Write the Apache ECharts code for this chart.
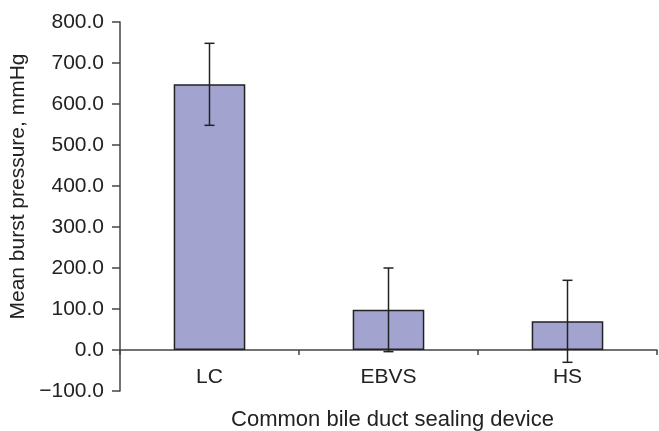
<!DOCTYPE html>
<html><head><meta charset="utf-8">
<script src="https://cdn.jsdelivr.net/npm/echarts@6/dist/echarts.min.js"></script>
<style>html,body{margin:0;padding:0;background:#fff}#c{width:659px;height:431px}</style>
</head><body><div id="c"></div>
<script>
var categories = ['LC', 'EBVS', 'HS'];
var means = [648, 98, 70];
var errors = [100, 102, 100];
var yTicks = { min: -100, max: 800, interval: 100 };

var chart = echarts.init(document.getElementById('c'));
var errData = categories.map(function (c, i) { return [i, means[i] - errors[i], means[i] + errors[i]]; });
var font = 'Liberation Sans, Arial, sans-serif';
chart.setOption({
  animation: false,
  grid: { left: 120, right: 2, top: 22, bottom: 40, outerBoundsMode: 'none', containLabel: false },
  xAxis: {
    type: 'category', data: categories,
    axisLine: { onZero: true, lineStyle: { color: '#444', width: 1.5 } },
    axisTick: { show: true, length: 5, inside: false, lineStyle: { color: '#444', width: 1.5 } },
    axisLabel: { color: '#222', fontSize: 21, fontFamily: font, margin: -24 },
    name: 'Common bile duct sealing device', nameLocation: 'middle', nameGap: 18,
    nameTextStyle: { color: '#222', fontSize: 22, fontFamily: font, padding: [0, 0, 0, 8] }
  },
  yAxis: {
    type: 'value', min: yTicks.min, max: yTicks.max, interval: yTicks.interval,
    axisLine: { show: true, lineStyle: { color: '#444', width: 1.5 } },
    axisTick: { show: true, length: 8, lineStyle: { color: '#444', width: 1.5 } },
    splitLine: { show: false },
    axisLabel: { color: '#222', fontSize: 21, fontFamily: font, margin: 16,
      formatter: function (v) { return v < 0 ? '\u2212' + Math.abs(v).toFixed(1) : v.toFixed(1); } },
    name: 'Mean burst pressure, mmHg', nameLocation: 'middle', nameGap: 83,
    nameTextStyle: { color: '#222', fontSize: 21, fontFamily: font, padding: [0, 0, 0, 40] }
  },
  series: [{
    type: 'bar', data: means, barWidth: '40%',
    itemStyle: { color: '#a3a3d0', borderColor: '#222', borderWidth: 1.5 }
  }, {
    type: 'custom', data: errData, z: 10,
    renderItem: function (params, api) {
      var x = api.value(0);
      var lo = api.coord([x, api.value(1)]);
      var hi = api.coord([x, api.value(2)]);
      var cw = 5;
      var st = { stroke: '#222', lineWidth: 1.5 };
      return { type: 'group', children: [
        { type: 'line', shape: { x1: hi[0], y1: hi[1], x2: lo[0], y2: lo[1] }, style: st },
        { type: 'line', shape: { x1: hi[0] - cw, y1: hi[1], x2: hi[0] + cw, y2: hi[1] }, style: st },
        { type: 'line', shape: { x1: lo[0] - cw, y1: lo[1], x2: lo[0] + cw, y2: lo[1] }, style: st }
      ] };
    }
  }]
});
</script></body></html>
